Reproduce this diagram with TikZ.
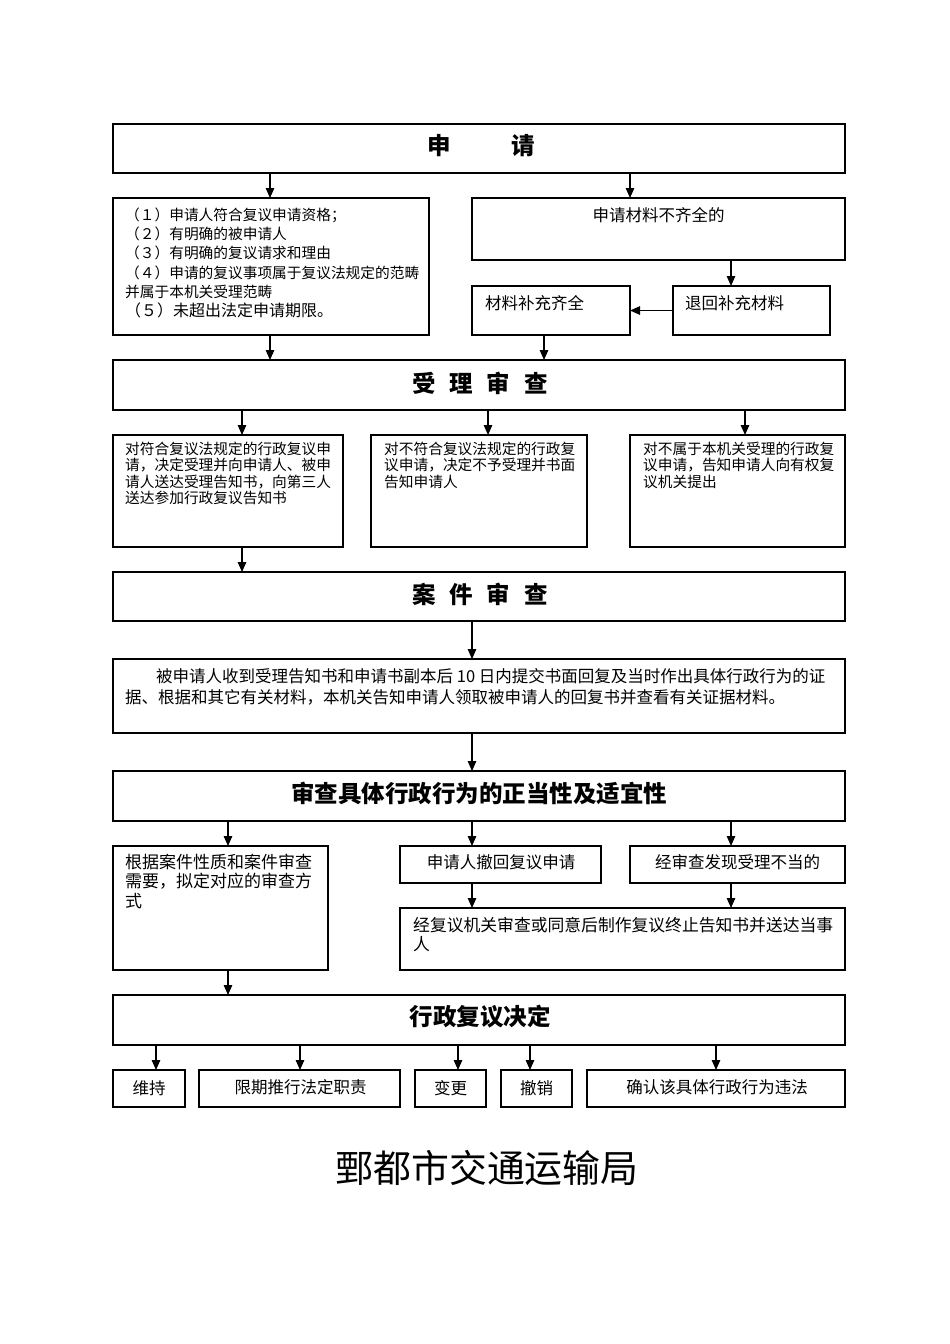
\documentclass[tikz,border=0pt]{standalone}
\usepackage{fontspec}
\setmainfont{Noto Sans CJK SC}
\usetikzlibrary{arrows.meta,calc}
\newcommand\mkbox[5]{\node[boxst, minimum width={(#4-#2)*1pt}, minimum height={(#5-#3)*1pt}] (#1) at ({(#2+#4)/2},{(#3+#5)/2}) {};}
\newcommand\fs[2]{\fontsize{#1}{#2}\selectfont}
\begin{document}
\begin{tikzpicture}[x=1pt,y=-1pt,
  boxst/.style={draw=black, line width=1.2pt, inner sep=0pt, outer sep=0pt, rectangle},
  arr/.style={-{Triangle[length=10pt,width=8.5pt]}, line width=1.2pt},
  txt/.style={inner sep=0pt, align=left, anchor=north west},
  ltxt/.style={inner sep=0pt, anchor=west},
  ctxt/.style={inner sep=0pt, anchor=center},
  head/.style={inner sep=0pt, anchor=center, font=\fs{23.5}{26}\bfseries},
]
\useasboundingbox[fill=white] (0,0) rectangle (950,1344);

% x positions for connectors
\foreach \xx in {156,228,242,270,300,458,472,488,530,544,630,716,731,745}
  {\coordinate (x\xx) at (\xx,0);}

% ---------- boxes ----------
\mkbox{s1}{113}{124}{845}{173}
\mkbox{b1}{113}{198}{429}{335}
\mkbox{b2}{472}{198}{845}{260}
\mkbox{b3}{673}{286}{830}{335}
\mkbox{b4}{472}{286}{630}{335}
\mkbox{s2}{113}{360}{845}{410}
\mkbox{bA}{113}{435}{343}{547}
\mkbox{bB}{371}{435}{587}{547}
\mkbox{bC}{630}{435}{845}{547}
\mkbox{s3}{113}{572}{845}{621}
\mkbox{p1}{113}{659}{845}{733}
\mkbox{s4}{113}{771}{845}{821}
\mkbox{bL}{113}{846}{328}{970}
\mkbox{bW}{400}{846}{601}{883}
\mkbox{bF}{630}{846}{845}{883}
\mkbox{bZ}{400}{908}{845}{970}
\mkbox{s5}{113}{995}{845}{1045}
\mkbox{d1}{113}{1070}{185}{1107}
\mkbox{d2}{199}{1070}{400}{1107}
\mkbox{d3}{415}{1070}{486}{1107}
\mkbox{d4}{501}{1070}{572}{1107}
\mkbox{d5}{587}{1070}{845}{1107}

% ---------- texts ----------
\node[head] (t1) at (481,146) {申\hspace{60pt}请};
\node[txt, font=\fs{14.7}{19.3}] (tb1) at (125,207.5)
  {（１）申请人符合复议申请资格；\\（２）有明确的被申请人\\（３）有明确的复议请求和理由\\（４）申请的复议事项属于复议法规定的范畴\\并属于本机关受理范畴\\{\fs{16}{19.3}（５）未超出法定申请期限。}};
\node[ctxt, font=\fs{16.5}{19}] (tb2) at (658.5,215) {申请材料不齐全的};
\node[ltxt, font=\fs{16.5}{19}] (tb3) at (685,303) {退回补充材料};
\node[ltxt, font=\fs{16.5}{19}] (tb4) at (485,303) {材料补充齐全};
\node[head] (t2) at (480,383) {受\hspace{14pt}理\hspace{14pt}审\hspace{14pt}查};
\node[txt, font=\fs{14.7}{16.5}] (tA) at (125,441.6)
  {对符合复议法规定的行政复议申\\请，决定受理并向申请人、被申\\请人送达受理告知书，向第三人\\送达参加行政复议告知书};
\node[txt, font=\fs{14.7}{16.5}] (tB) at (384,441.6)
  {对不符合复议法规定的行政复\\议申请，决定不予受理并书面\\告知申请人};
\node[txt, font=\fs{14.7}{16.5}] (tC) at (643,441.6)
  {对不属于本机关受理的行政复\\议申请，告知申请人向有权复\\议机关提出};
\node[head] (t3) at (480,594) {案\hspace{14pt}件\hspace{14pt}审\hspace{14pt}查};
\node[txt, font=\fs{16.5}{21}] (tp) at (125,667.8)
  {\hspace{31pt}被申请人收到受理告知书和申请书副本后 10 日内提交书面回复及当时作出具体行政行为的证\\据、根据和其它有关材料，本机关告知申请人领取被申请人的回复书并查看有关证据材料。};
\node[head] (t4) at (479,793) {审查具体行政行为的正当性及适宜性};
\node[txt, font=\fs{17}{19.5}] (tL) at (125,853.5)
  {根据案件性质和案件审查\\需要，拟定对应的审查方\\式};
\node[ctxt, font=\fs{16.5}{19}] (tW) at (501,862) {申请人撤回复议申请};
\node[ctxt, font=\fs{16.5}{19}] (tF) at (737.5,862) {经审查发现受理不当的};
\node[txt, font=\fs{16.8}{19.5}] (tZ) at (413,916.6)
  {经复议机关审查或同意后制作复议终止告知书并送达当事\\人};
\node[head] (t5) at (480,1017) {行政复议决定};
\node[ctxt, font=\fs{16.5}{19}] (e1) at (d1) {维持};
\node[ctxt, font=\fs{16.5}{19}] (e2) at (300.5,1087) {限期推行法定职责};
\node[ctxt, font=\fs{16.5}{19}] (e3) at (d3) {变更};
\node[ctxt, font=\fs{16.5}{19}] (e4) at (d4) {撤销};
\node[ctxt, font=\fs{16.5}{19}] (e5) at (717,1087) {确认该具体行政行为违法};
\node[ctxt, font=\fs{37.9}{40}] (foot) at (487,1168) {鄄都市交通运输局};

% ---------- connectors ----------
\draw[arr] (s1.south -| x270) -- (b1.north -| x270);
\draw[arr] (s1.south -| x630) -- (b2.north -| x630);
\draw[arr] (b2.south -| x731) -- (b3.north -| x731);
\draw[arr] (b3.west) -- (b4.east);
\draw[arr] (b1.south -| x270) -- (s2.north -| x270);
\draw[arr] (b4.south -| x544) -- (s2.north -| x544);
\draw[arr] (s2.south -| x242) -- (bA.north -| x242);
\draw[arr] (s2.south -| x488) -- (bB.north -| x488);
\draw[arr] (s2.south -| x745) -- (bC.north -| x745);
\draw[arr] (bA.south -| x242) -- (s3.north -| x242);
\draw[arr] (s3.south -| x472) -- (p1.north -| x472);
\draw[arr] (p1.south -| x472) -- (s4.north -| x472);
\draw[arr] (s4.south -| x228) -- (bL.north -| x228);
\draw[arr] (s4.south -| x472) -- (bW.north -| x472);
\draw[arr] (s4.south -| x731) -- (bF.north -| x731);
\draw[arr] (bW.south -| x472) -- (bZ.north -| x472);
\draw[arr] (bF.south -| x731) -- (bZ.north -| x731);
\draw[arr] (bL.south -| x228) -- (s5.north -| x228);
\draw[arr] (s5.south -| x156) -- (d1.north -| x156);
\draw[arr] (s5.south -| x300) -- (d2.north -| x300);
\draw[arr] (s5.south -| x458) -- (d3.north -| x458);
\draw[arr] (s5.south -| x530) -- (d4.north -| x530);
\draw[arr] (s5.south -| x716) -- (d5.north -| x716);
\end{tikzpicture}
\end{document}
